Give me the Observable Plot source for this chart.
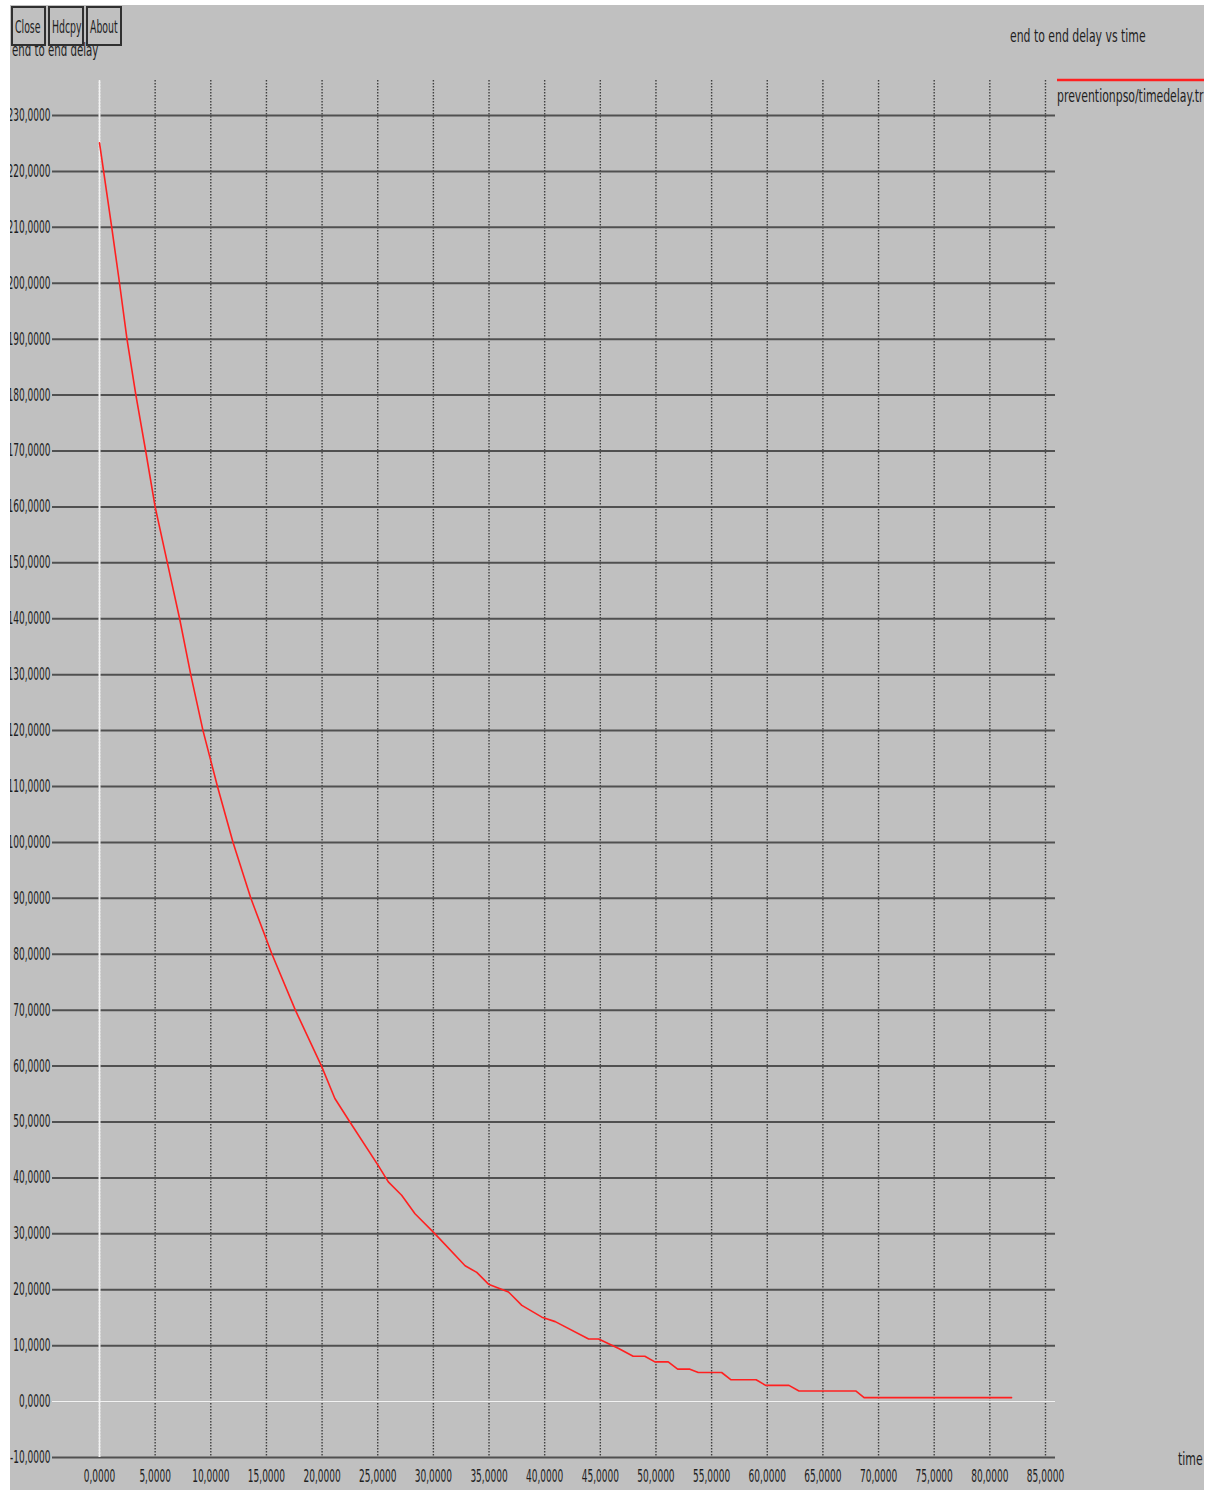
<!DOCTYPE html>
<html><head><meta charset="utf-8">
<script src="https://cdn.jsdelivr.net/npm/d3@7"></script>
<script src="https://cdn.jsdelivr.net/npm/@observablehq/plot@0.6"></script>
<style>
html,body{margin:0;padding:0;background:#fff;}
#frame{position:absolute;left:10px;top:5px;width:1194px;height:1485px;background:#c0c0c0;overflow:hidden;}
</style></head><body><div id="frame"></div>
<script>
// ---- data ----
const time  = [0, 1.1, 1.8, 2.47, 3.27, 4.15, 5.0, 6.1, 7.2, 8.2, 9.3, 10.6, 12.0, 13.6, 15.5, 17.6, 19.95, 21.15, 22.5, 25.05, 25.95, 27.15, 28.35, 30.15, 32.85, 33.9, 34.95, 36.75, 37.95, 39.75, 40.95, 43.95, 44.85, 46.65, 47.95, 49.0, 49.9, 51.1, 51.95, 53.05, 53.8, 55.9, 56.75, 59.0, 59.85, 61.95, 62.85, 67.95, 68.7, 81.95];
const delay = [225.1, 210.0, 200.0, 190.0, 180.0, 170.0, 160.0, 150.0, 140.0, 130.0, 120.0, 110.0, 100.0, 90.0, 80.0, 70.0, 60.0, 54.2, 50.0, 42.2, 39.3, 36.9, 33.6, 30.0, 24.3, 23.1, 21.0, 19.6, 17.2, 15.1, 14.3, 11.2, 11.2, 9.5, 8.1, 8.1, 7.1, 7.1, 5.8, 5.8, 5.2, 5.2, 3.9, 3.9, 2.9, 2.9, 1.9, 1.9, 0.7, 0.7];
const xTicks = [0, 5, 10, 15, 20, 25, 30, 35, 40, 45, 50, 55, 60, 65, 70, 75, 80, 85];
const yTicks = [-10, 0, 10, 20, 30, 40, 50, 60, 70, 80, 90, 100, 110, 120, 130, 140, 150, 160, 170, 180, 190, 200, 210, 220, 230];
const titleText = "end to end delay vs time";
const seriesName = "preventionpso/timedelay.tr";
const yLabelText = "end to end delay";
const xLabelText = "time";
const buttonLabels = ["Close", "Hdcpy", "About"];

const data = time.map((t, i) => ({time: t, delay: delay[i]}));
const fmt = d => d.toFixed(4).replace(".", ",");
const FONT = "DejaVu Sans";

const chart = Plot.plot({
  width: 1194, height: 1485,
  marginLeft: 42, marginRight: 149, marginTop: 75, marginBottom: 33,
  style: {background: "#c0c0c0", color: "#1e1e1e", fontFamily: FONT, fontSize: "17px"},
  x: {domain: [-4.223, 85.90], ticks: xTicks, tickFormat: fmt, tickSize: 0, tickPadding: 12, label: null},
  y: {domain: [-10, 236.26], ticks: yTicks, tickFormat: fmt, tickSize: 0, tickPadding: 2, label: null},
  marks: [
    Plot.ruleX(xTicks, {stroke: "#404040", strokeWidth: 1.4, strokeDasharray: "1.5,1.5"}),
    Plot.ruleY(yTicks, {stroke: "#505050", strokeWidth: 2}),
    Plot.ruleX([0], {stroke: "#f2f2f2", strokeWidth: 2}),
    Plot.ruleY([0], {stroke: "#f2f2f2", strokeWidth: 2}),
    Plot.line(data, {x: "time", y: "delay", stroke: "#ff2020", strokeWidth: 1.6})
  ]
});
document.getElementById("frame").appendChild(chart);

// annotations (title, legend, labels, buttons)
const svg = d3.select(chart);
const ann = svg.append("g").attr("font-family", FONT).attr("font-size", 17)
  .attr("fill", "#1e1e1e").attr("text-anchor", "start");
ann.append("text").attr("class", "ann").attr("x", 1000).attr("y", 37).text(titleText);
ann.append("line").attr("x1", 1047).attr("x2", 1194).attr("y1", 75).attr("y2", 75)
  .attr("stroke", "#ff2020").attr("stroke-width", 2.5);
ann.append("text").attr("class", "ann").attr("x", 1047).attr("y", 97).text(seriesName);
ann.append("text").attr("class", "ann").attr("x", 1168).attr("y", 1460).text(xLabelText);
ann.append("text").attr("class", "ann lbl").attr("x", 2).attr("y", 51).text(yLabelText);
const bx = [2, 39, 77], bw = [33, 34, 34];
buttonLabels.forEach((b, i) => {
  ann.append("rect").attr("x", bx[i]).attr("y", 2).attr("width", bw[i]).attr("height", 38)
    .attr("fill", "#c0c0c0").attr("stroke", "#303030").attr("stroke-width", 2);
  ann.append("text").attr("class", "ann btn").attr("x", bx[i] + 3).attr("y", 28).text(b);
});

// condensed look of the original bitmap font
chart.querySelectorAll("text").forEach(t => {
  const L = t.getComputedTextLength();
  const c = t.classList;
  const k = c.contains("btn") ? 0.55 : c.contains("lbl") ? 0.6 : c.contains("ann") ? 0.64 : 0.53;
  t.setAttribute("textLength", (L * k).toFixed(1));
  t.setAttribute("lengthAdjust", "spacingAndGlyphs");
});
</script>
</body></html>
